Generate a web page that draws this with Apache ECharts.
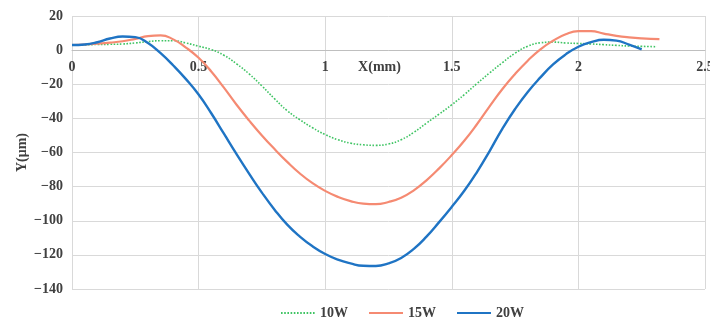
<!DOCTYPE html>
<html>
<head>
<meta charset="utf-8">
<script src="https://cdn.jsdelivr.net/npm/echarts@6/dist/echarts.min.js"></script>
<style>html,body{margin:0;padding:0;background:#fff}#c{width:710px;height:325px}</style>
</head>
<body>
<div id="c"></div>
<script>
var seriesNames = ['10W', '15W', '20W'];
var xTicks = [0, 0.5, 1, 1.5, 2, 2.5];
var yTicks = [-140, -120, -100, -80, -60, -40, -20, 0, 20];

var data10W = [
  [0, 3], [0.05, 3.1], [0.1, 3.3], [0.15, 3.4], [0.2, 3.6], [0.25, 4.2], [0.3, 5.0], [0.35, 5.5],
  [0.4, 5.5], [0.45, 4.2], [0.5, 2.3], [0.55, 0.3], [0.6, -3], [0.65, -8], [0.7, -14], [0.75, -21],
  [0.8, -28.5], [0.85, -35.5], [0.9, -40.8], [0.95, -45.5], [1.0, -49.5], [1.05, -52.5], [1.1, -54.5],
  [1.15, -55.5], [1.2, -55.8], [1.25, -55], [1.3, -52.5], [1.35, -48.2], [1.4, -42.8], [1.45, -37.5],
  [1.5, -32], [1.55, -26], [1.6, -19.5], [1.65, -13.3], [1.7, -7.3], [1.75, -1.8], [1.8, 2.3],
  [1.85, 4.3], [1.9, 4.7], [1.95, 4.2], [2.0, 3.9], [2.05, 3.6], [2.1, 3.2], [2.15, 2.8],
  [2.2, 2.4], [2.25, 2.2], [2.31, 2]
];
var data15W = [
  [0, 3], [0.05, 3.3], [0.1, 3.8], [0.15, 4.4], [0.2, 5.2], [0.25, 6.6], [0.3, 8.2], [0.35, 8.7],
  [0.4, 6.3], [0.45, 1.5], [0.5, -4.5], [0.55, -12.5], [0.6, -22], [0.65, -32], [0.7, -41.3],
  [0.75, -50], [0.8, -58], [0.85, -65.5], [0.9, -72.3], [0.95, -78], [1.0, -82.5], [1.05, -86],
  [1.1, -88.5], [1.15, -90], [1.2, -90.3], [1.25, -89], [1.3, -86.5], [1.35, -82.2], [1.4, -76.3],
  [1.45, -69.3], [1.5, -61.5], [1.55, -53], [1.6, -43.3], [1.65, -32.8], [1.7, -22.8], [1.75, -14],
  [1.8, -6.2], [1.85, 0.5], [1.9, 5.5], [1.95, 9.3], [2.0, 11.1], [2.05, 11.1], [2.1, 9.7],
  [2.15, 8.4], [2.2, 7.5], [2.25, 6.9], [2.32, 6.4]
];
var data20W = [
  [0, 3], [0.05, 3.3], [0.1, 4.6], [0.15, 6.8], [0.2, 8.0], [0.25, 7.6], [0.3, 4.2], [0.35, -1.8],
  [0.4, -9], [0.45, -17], [0.5, -26], [0.55, -37], [0.6, -49], [0.65, -61], [0.7, -72.5],
  [0.75, -83.5], [0.8, -93.5], [0.85, -102.3], [0.9, -109.3], [0.95, -115], [1.0, -119.5],
  [1.05, -122.8], [1.1, -125], [1.15, -126.4], [1.2, -126.5], [1.25, -125], [1.3, -121.8],
  [1.35, -116.5], [1.4, -109.3], [1.45, -100.8], [1.5, -91.8], [1.55, -82.3], [1.6, -71.3],
  [1.65, -59], [1.7, -46], [1.75, -34.5], [1.8, -24.5], [1.85, -16], [1.9, -8.4], [1.95, -2.5],
  [2.0, 2], [2.05, 4.7], [2.1, 6.1], [2.15, 5.6], [2.2, 3.2], [2.25, 0.4]
];

var font = 'Liberation Serif';
var txtColor = '#404040';
var gridTop = 16, gridBottom = 36, chartH = 325;
var plotH = chartH - gridTop - gridBottom;
var yMin = yTicks[0], yMax = yTicks[yTicks.length - 1];
// distance from plot bottom to the y = 0 line, so the x axis sits on zero
var zeroOffset = -Math.round(plotH * (0 - yMin) / (yMax - yMin));

var chart = echarts.init(document.getElementById('c'));
chart.setOption({
  animation: false,
  grid: { left: 72, right: 5, top: gridTop, bottom: gridBottom, containLabel: false, outerBoundsMode: 'none' },
  legend: {
    data: seriesNames,
    left: 280, top: 306, padding: 0,
    itemWidth: 34, itemHeight: 14, itemGap: 20,
    itemStyle: { color: 'transparent', borderWidth: 0, opacity: 0 },
    textStyle: { fontFamily: font, fontWeight: 'bold', fontSize: 14, color: txtColor }
  },
  xAxis: {
    type: 'value', min: xTicks[0], max: xTicks[xTicks.length - 1], interval: 0.5,
    position: 'bottom', offset: zeroOffset,
    name: 'X(mm)', nameLocation: 'middle', nameGap: 10, nameMoveOverlap: false,
    nameTextStyle: { fontFamily: font, fontWeight: 'bold', fontSize: 14, color: txtColor, padding: [0, 18, 0, 0] },
    axisLine: { onZero: false, lineStyle: { color: '#bfbfbf', width: 1 } },
    axisTick: { show: false },
    axisLabel: { margin: 10, fontFamily: font, fontWeight: 'bold', fontSize: 14, color: txtColor },
    splitLine: { show: true, lineStyle: { color: '#d9d9d9', width: 1 } }
  },
  yAxis: {
    type: 'value', min: yMin, max: yMax, interval: 20,
    name: 'Y(μm)', nameLocation: 'middle', nameGap: 43, nameRotate: 90, nameMoveOverlap: false,
    nameTextStyle: { fontFamily: font, fontWeight: 'bold', fontSize: 14, color: txtColor },
    axisLine: { show: false, onZero: false },
    axisTick: { show: false },
    axisLabel: { margin: 9, fontFamily: font, fontWeight: 'bold', fontSize: 14, color: txtColor,
      formatter: function (v) { return v < 0 ? '\u2212' + Math.abs(v) : String(v); } },
    splitLine: { show: true, lineStyle: { color: '#d9d9d9', width: 1 } }
  },
  series: [
    { name: seriesNames[0], type: 'line', data: data10W, smooth: 0.5, symbol: 'none',
      itemStyle: { color: '#3fc463' }, lineStyle: { color: '#3fc463', width: 1.6, type: [1.6, 1.6] } },
    { name: seriesNames[1], type: 'line', data: data15W, smooth: 0.5, symbol: 'none',
      itemStyle: { color: '#f58a72' }, lineStyle: { color: '#f58a72', width: 2.2 } },
    { name: seriesNames[2], type: 'line', data: data20W, smooth: 0.5, symbol: 'none',
      itemStyle: { color: '#1f74c4' }, lineStyle: { color: '#1f74c4', width: 2.4 } }
  ]
});
</script>
</body>
</html>
